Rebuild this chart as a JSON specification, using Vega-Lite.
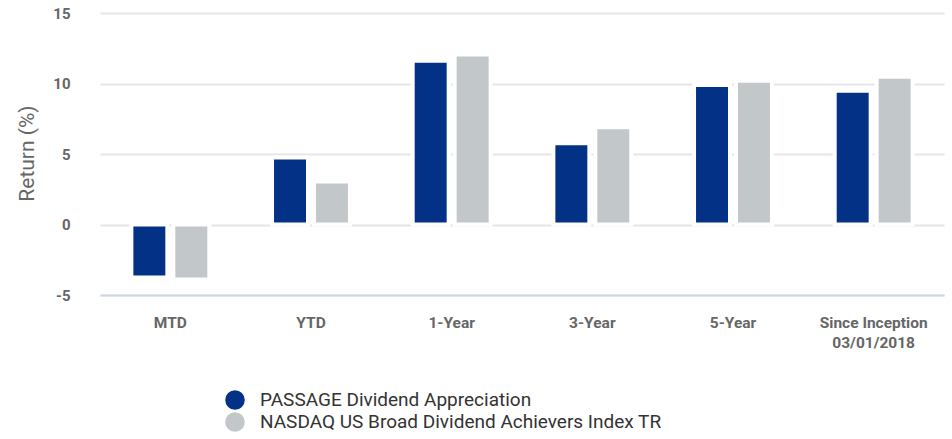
{
  "$schema": "https://vega.github.io/schema/vega-lite/v6.json",
  "width": 844,
  "height": 282,
  "autosize": {"type": "none"},
  "padding": {"left": 100, "top": 13, "right": 8, "bottom": 144},
  "config": {
    "font": "Roboto",
    "view": {"stroke": null},
    "background": "white"
  },
  "data": {
    "values": [
      {"period": "MTD", "series": "PASSAGE Dividend Appreciation", "value": -3.75},
      {"period": "MTD", "series": "NASDAQ US Broad Dividend Achievers Index TR", "value": -3.9},
      {"period": "YTD", "series": "PASSAGE Dividend Appreciation", "value": 4.76},
      {"period": "YTD", "series": "NASDAQ US Broad Dividend Achievers Index TR", "value": 3.05},
      {"period": "1-Year", "series": "PASSAGE Dividend Appreciation", "value": 11.62},
      {"period": "1-Year", "series": "NASDAQ US Broad Dividend Achievers Index TR", "value": 12.05},
      {"period": "3-Year", "series": "PASSAGE Dividend Appreciation", "value": 5.76},
      {"period": "3-Year", "series": "NASDAQ US Broad Dividend Achievers Index TR", "value": 6.9},
      {"period": "5-Year", "series": "PASSAGE Dividend Appreciation", "value": 9.9},
      {"period": "5-Year", "series": "NASDAQ US Broad Dividend Achievers Index TR", "value": 10.19},
      {"period": "Since Inception|03/01/2018", "series": "PASSAGE Dividend Appreciation", "value": 9.48},
      {"period": "Since Inception|03/01/2018", "series": "NASDAQ US Broad Dividend Achievers Index TR", "value": 10.48}
    ]
  },
  "mark": {"type": "bar", "stroke": "white", "strokeWidth": 4},
  "encoding": {
    "x": {
      "field": "period",
      "type": "nominal",
      "sort": ["MTD", "YTD", "1-Year", "3-Year", "5-Year", "Since Inception|03/01/2018"],
      "scale": {"paddingInner": 0.446, "paddingOuter": 0.223},
      "axis": {
        "title": null,
        "labelAngle": 0,
        "labelExpr": "split(datum.label, '|')",
        "labelFontSize": 15.5,
        "labelFontWeight": "bold",
        "labelColor": "#666666",
        "labelPadding": 20,
        "labelBaseline": "top",
        "labelLineHeight": 20,
        "ticks": false,
        "grid": false,
        "domain": true,
        "domainColor": "#cdd7e8",
        "domainWidth": 2,
        "zindex": 1
      }
    },
    "xOffset": {
      "field": "series",
      "type": "nominal",
      "sort": ["PASSAGE Dividend Appreciation", "NASDAQ US Broad Dividend Achievers Index TR"],
      "scale": {"paddingInner": 0.143, "paddingOuter": 0}
    },
    "y": {
      "field": "value",
      "type": "quantitative",
      "scale": {"domain": [-5, 15], "nice": false, "zero": false},
      "axis": {
        "values": [-5, 0, 5, 10, 15],
        "labelExpr": "'' + datum.value",
        "title": "Return (%)",
        "titleFontSize": 21,
        "titleFontWeight": "normal",
        "titleColor": "#666666",
        "titleX": -73,
        "titleY": 140,
        "titleAngle": -90,
        "titleAlign": "center",
        "titleBaseline": "middle",
        "labelFontSize": 15,
        "labelFontWeight": "bold",
        "labelColor": "#666666",
        "labelPadding": 30,
        "ticks": false,
        "domain": false,
        "grid": true,
        "gridColor": "#e6e6e6",
        "gridWidth": 2
      }
    },
    "color": {
      "field": "series",
      "type": "nominal",
      "sort": ["PASSAGE Dividend Appreciation", "NASDAQ US Broad Dividend Achievers Index TR"],
      "scale": {
        "domain": ["PASSAGE Dividend Appreciation", "NASDAQ US Broad Dividend Achievers Index TR"],
        "range": ["#023186", "#c2c7ca"]
      },
      "legend": {
        "title": null,
        "orient": "none",
        "legendX": 125,
        "legendY": 377,
        "direction": "vertical",
        "symbolType": "circle",
        "symbolSize": 380,
        "symbolStrokeWidth": 0,
        "symbolOpacity": 1,
        "labelFontSize": 19,
        "labelColor": "#333333",
        "labelOffset": 15,
        "rowPadding": 2,
        "labelLimit": 700
      }
    }
  }
}
